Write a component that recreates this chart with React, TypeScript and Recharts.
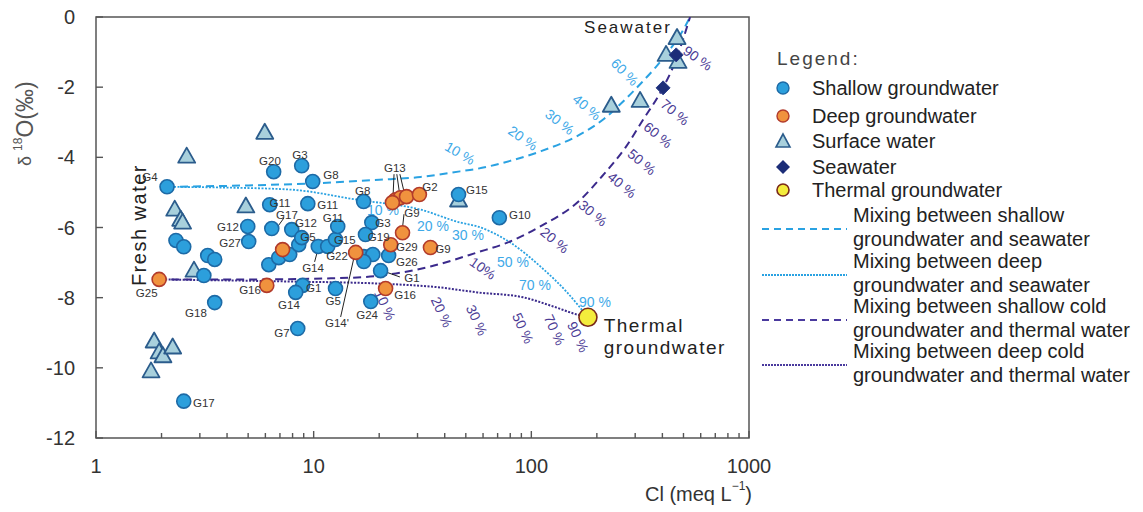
import React from "react";
import {
  ComposedChart,
  Line,
  Scatter,
  XAxis,
  YAxis,
  ReferenceArea,
  ReferenceLine,
} from "recharts";

const FONT = '"Liberation Sans", Arial, sans-serif';

// samples: [Cl (meq/L), d18O (permil)]
const shallowGW: [number, number][] = [
  [2.12, -4.84], [6.55, -4.41], [8.81, -4.24], [9.9, -4.69], [6.28, -5.35], [9.4, -5.32],
  [16.96, -5.26], [4.98, -5.97], [5.03, -6.4], [6.42, -6.03], [7.93, -6.06], [2.33, -6.37],
  [2.53, -6.55], [3.26, -6.8], [3.51, -6.91], [3.13, -7.37], [3.51, -8.14], [2.53, -10.95],
  [6.22, -7.06], [6.91, -6.86], [7.76, -6.77], [8.54, -6.49], [8.81, -6.29], [10.5, -6.54],
  [11.6, -6.54], [12.6, -6.34], [12.9, -5.97], [18.5, -5.86], [17.3, -6.2], [17.0, -6.83],
  [18.7, -6.77], [17.0, -6.97], [22.1, -6.8], [20.3, -7.23], [18.3, -8.11], [12.6, -7.74],
  [8.9, -7.65], [8.27, -7.85], [8.45, -8.88], [46.3, -5.06], [71.3, -5.72],
];
const deepGW: [number, number][] = [
  [1.95, -7.48], [6.09, -7.65], [7.2, -6.63], [15.6, -6.71], [25.6, -6.15], [22.6, -6.49],
  [21.4, -7.74], [34.4, -6.57], [23.8, -5.21], [25.0, -5.15], [26.7, -5.12], [23.0, -5.29],
  [30.6, -5.06],
];
const surfaceWater: [number, number][] = [
  [5.96, -3.3], [2.61, -3.98], [4.88, -5.4], [2.3, -5.49], [2.45, -5.78], [2.5, -5.86],
  [2.82, -7.23], [1.85, -9.25], [1.95, -9.56], [2.03, -9.67], [2.25, -9.42], [1.79, -10.1],
  [46.3, -5.23], [233, -2.53], [316, -2.39], [467, -0.6], [416, -1.08], [472, -1.28],
];
const seawater: [number, number][] = [[463, -1.08], [403, -2.02]];
const thermalGW: [number, number][] = [[182, -8.56]];

// mixing curves
const mixShallowSea: [number, number][] = [
  [2.12, -4.84], [5, -4.8], [10, -4.74], [20, -4.64], [31, -4.56], [47, -4.4], [56, -4.33],
  [80, -4.1], [109, -3.84], [166, -3.36], [216, -2.9], [270, -2.35], [320, -1.88],
  [374, -1.42], [430, -0.95], [490, -0.45], [536, 0],
];
const mixDeepSea: [number, number][] = [
  [2.12, -4.84], [3.74, -4.86], [7.84, -4.92], [15.9, -5.21], [31, -5.49], [47.2, -5.86],
  [56.5, -5.97], [80.1, -6.43], [110, -7.11], [146, -7.85], [182, -8.56],
];
const mixShallowThermal: [number, number][] = [
  [1.93, -7.48], [5.14, -7.48], [12, -7.45], [20.3, -7.37], [34.4, -7.11], [56.5, -6.71],
  [77.6, -6.43], [110, -5.97], [168, -5.21], [214, -4.5], [270, -3.73], [326, -2.93],
  [391, -2.16], [458, -1.28], [536, 0],
];
const mixDeepThermal: [number, number][] = [
  [1.93, -7.48], [7.84, -7.54], [20.3, -7.6], [38.2, -7.71], [56.5, -7.85], [91.7, -7.99],
  [126, -8.25], [162, -8.48], [182, -8.56],
];

// percentage labels: [text, Cl, d18O, rotation]
const pctShallowSea: [string, number, number, number][] = [
  ["10 %", 47, -3.88, 30], ["20 %", 91.5, -3.45, 35], ["30 %", 135, -2.99, 38],
  ["40 %", 180, -2.57, 40], ["60 %", 269, -1.57, 45],
];
const pctDeepSea: [string, number, number, number][] = [
  ["10 %", 20.8, -5.5, 0], ["20 %", 35.3, -5.96, 0], ["30 %", 51.2, -6.21, 0],
  ["50 %", 82.3, -6.98, 0], ["70 %", 104, -7.64, 0], ["90 %", 196, -8.12, 0],
];
const pctShallowThermal: [string, number, number, number][] = [
  ["10%", 59.9, -7.16, 35], ["20 %", 128, -6.36, 40], ["30 %", 192, -5.59, 40],
  ["40 %", 261, -4.79, 40], ["50 %", 322, -4.13, 40], ["60 %", 382, -3.36, 40],
  ["70 %", 457, -2.71, 40], ["90 %", 582, -1.17, 35],
];
const pctDeepThermal: [string, number, number, number][] = [
  ["10 %", 21.3, -8.21, 65], ["20 %", 38.8, -8.41, 65], ["30 %", 56.2, -8.64, 65],
  ["50 %", 91.5, -8.87, 65], ["70 %", 128, -8.92, 65], ["90 %", 164, -9.12, 65],
];

// sample names: [text, Cl, d18O]
const sampleNames: [string, number, number][] = [
  ["G4", 1.77, -4.56], ["G20", 6.3, -4.1], ["G3", 8.65, -3.93], ["G8", 12.0, -4.5],
  ["G11", 7.0, -5.3], ["G11", 11.6, -5.36], ["G17", 7.54, -5.64], ["G12", 4.04, -5.99],
  ["G27", 4.13, -6.44], ["G12", 9.22, -5.87], ["G5", 9.42, -6.27], ["G14", 9.93, -7.16],
  ["G16", 5.1, -7.78], ["G14", 7.7, -8.21], ["G1", 10.0, -7.73], ["G5", 12.3, -8.1],
  ["G7", 7.15, -9.01], ["G18", 2.88, -8.44], ["G17", 3.13, -11.0], ["G25", 1.71, -7.87],
  ["G15", 13.9, -6.36], ["G11", 12.3, -5.73], ["G22", 12.8, -6.8], ["G8", 16.8, -4.96],
  ["G3", 20.8, -5.87], ["G19", 19.9, -6.26], ["G13", 23.6, -4.3], ["G2", 34.2, -4.85],
  ["G9", 28.3, -5.59], ["G29", 26.8, -6.55], ["G9", 39.3, -6.61], ["G26", 26.8, -6.98],
  ["G1", 28.3, -7.44], ["G16", 26.3, -7.92], ["G24", 17.6, -8.49], ["G14'", 12.8, -8.72],
  ["G15", 56.2, -4.93], ["G10", 88.6, -5.64],
];
// leader lines: [Cl1, d1, Cl2, d2]
const leaderLines: [number, number, number, number][] = [
  [23.4, -4.48, 23.1, -5.25], [24.1, -4.48, 25.2, -5.33], [24.9, -4.48, 26.5, -5.19],
  [26.0, -5.62, 25.5, -6.1], [10.5, -6.59, 10.1, -6.98], [15.3, -6.87, 13.3, -8.55],
  [21.5, -7.27, 24.9, -7.41], [7.3, -5.73, 6.86, -5.96],
];

const xTicks = [1, 2, 3, 4, 5, 6, 7, 8, 9, 10, 20, 30, 40, 50, 60, 70, 80, 90, 100, 200, 300, 400, 500, 600, 700, 800, 900, 1000];
const xTickLabels = [1, 10, 100, 1000];
const yTicks = [-12, -10, -8, -6, -4, -2, 0];

const pts = (arr: [number, number][]) => arr.map(([x, y]) => ({ x, y }));
const labels = (arr: any[]) => arr.map(([text, x, y, rot]) => ({ text, x, y, rot: rot || 0 }));

const BLUE = "#2aa2e2";
const PURPLE = "#3b2a8c";
const LBL_BLUE = "#3ea9e8";
const LBL_PURPLE = "#4b3b95";

const circleShape = (fill: string, stroke: string, r: number) => (p: any) =>
  <circle cx={p.cx} cy={p.cy} r={r} fill={fill} stroke={stroke} strokeWidth={1.6} />;

const triangleShape = (p: any) => (
  <polygon
    points={`${p.cx},${p.cy - 9} ${p.cx - 8.5},${p.cy + 6} ${p.cx + 8.5},${p.cy + 6}`}
    fill="#a8d0dc" stroke="#2b5c8c" strokeWidth={1.8} strokeLinejoin="round"
  />
);

const diamondShape = (p: any) => (
  <polygon
    points={`${p.cx},${p.cy - 7} ${p.cx + 7},${p.cy} ${p.cx},${p.cy + 7} ${p.cx - 7},${p.cy}`}
    fill="#1c2d78" stroke="#2a3d88" strokeWidth={1}
  />
);

const textShape = (color: string, size: number, anchor = "middle", spacing = 0) => (p: any) => (
  <text
    x={p.cx} y={p.cy} fill={color} fontSize={size} fontFamily={FONT}
    textAnchor={anchor} dominantBaseline="central" letterSpacing={spacing}
    transform={p.payload.rot ? `rotate(${p.payload.rot} ${p.cx} ${p.cy})` : undefined}
  >
    {p.payload.text}
  </text>
);

const XTick = (p: any) => {
  const v = p.payload.value;
  const major = xTickLabels.includes(v);
  return (
    <g>
      <line x1={p.x} x2={p.x} y1={p.y} y2={p.y - (major ? 7 : 5)} stroke="#555" strokeWidth={1.4} />
      {major && (
        <text x={p.x} y={p.y + 28} textAnchor="middle" dominantBaseline="central" fontSize={20} fill="#333" fontFamily={FONT}>
          {v}
        </text>
      )}
    </g>
  );
};

const YTick = (p: any) => (
  <g>
    <line x1={p.x} x2={p.x + 7} y1={p.y} y2={p.y} stroke="#555" strokeWidth={1.4} />
    <text x={p.x - 21} y={p.y} textAnchor="end" dominantBaseline="central" fontSize={20} fill="#333" fontFamily={FONT}>
      {p.payload.value}
    </text>
  </g>
);

function LegendBox() {
  const items = [
    { label: "Shallow groundwater", y: 88, mark: <circle cx={783} cy={88} r={6} fill="#2c9fdc" stroke="#1d6aa6" strokeWidth={1.4} /> },
    { label: "Deep groundwater", y: 116, mark: <circle cx={783} cy={116} r={6} fill="#f0923e" stroke="#b23b2b" strokeWidth={1.4} /> },
    { label: "Surface water", y: 141, mark: <polygon points="783,134 776,147 790,147" fill="#a8d0dc" stroke="#2b5c8c" strokeWidth={1.6} /> },
    { label: "Seawater", y: 167, mark: <polygon points="783,160 790,167 783,174 776,167" fill="#1c2d78" /> },
    { label: "Thermal groundwater", y: 190, mark: <circle cx={783} cy={190} r={6} fill="#f4ec3c" stroke="#7a2a1a" strokeWidth={1.6} /> },
  ];
  const lines = [
    { y: 229, color: BLUE, dash: "7 5", w: 2, t: ["Mixing between shallow", "groundwater and seawater"] },
    { y: 275, color: BLUE, dash: "2 1", w: 2, t: ["Mixing between deep", "groundwater and seawater"] },
    { y: 320, color: "#4a3a9e", dash: "7 5", w: 2, t: ["Mixing between shallow cold", "groundwater and thermal water"] },
    { y: 365, color: "#4a3a9e", dash: "2 1", w: 2, t: ["Mixing between deep cold", "groundwater and thermal water"] },
  ];
  return (
    <svg width={1143} height={512} style={{ position: "absolute", left: 0, top: 0, pointerEvents: "none" }}>
      <text x={777} y={58} fontSize={19} letterSpacing={2} fill="#444" fontFamily={FONT} dominantBaseline="central">Legend:</text>
      {items.map((it) => (
        <g key={it.label}>
          {it.mark}
          <text x={812} y={it.y} fontSize={20} fill="#222" fontFamily={FONT} dominantBaseline="central">{it.label}</text>
        </g>
      ))}
      {lines.map((l) => (
        <g key={l.t[0]}>
          <line x1={762} x2={847} y1={l.y} y2={l.y} stroke={l.color} strokeWidth={l.w} strokeDasharray={l.dash} />
          <text x={853} y={l.y - 14} fontSize={20} fill="#222" fontFamily={FONT} dominantBaseline="central">{l.t[0]}</text>
          <text x={853} y={l.y + 10} fontSize={20} fill="#222" fontFamily={FONT} dominantBaseline="central">{l.t[1]}</text>
        </g>
      ))}
      {/* axis titles */}
      <text x={25} y={166} transform="rotate(-90 25 166)" textAnchor="start" dominantBaseline="central" fill="#555" fontFamily={FONT}>
        <tspan fontSize={18}>δ </tspan>
        <tspan fontSize={12} dy={-7}>18</tspan>
        <tspan fontSize={23} dy={7}>O(‰)</tspan>
      </text>
      <text x={752} y={494} textAnchor="end" dominantBaseline="central" fill="#333" fontFamily={FONT} fontSize={20}>
        Cl (meq L<tspan fontSize={12} dy={-8}>−1</tspan><tspan dy={8}>)</tspan>
      </text>
    </svg>
  );
}

export default function App() {
  return (
    <div style={{ position: "absolute", left: 0, top: 0, width: 1143, height: 512, background: "#fff" }}>
      <ComposedChart width={1143} height={512} margin={{ top: 17, right: 394, bottom: 44, left: 36 }}>
        <XAxis
          dataKey="x" type="number" scale="log" domain={[1, 1000]} allowDataOverflow
          ticks={xTicks} interval={0} height={30} axisLine={false} tickLine={false}
          tickSize={0} tickMargin={0} tick={(p: any) => <XTick {...p} />}
        />
        <YAxis
          dataKey="y" type="number" domain={[-12, 0]} allowDataOverflow ticks={yTicks}
          interval={0} width={60} axisLine={false} tickLine={false}
          tickSize={0} tickMargin={0} tick={(p: any) => <YTick {...p} />}
        />
        <ReferenceArea x1={1} x2={1000} y1={-12} y2={0} fill="none" stroke="#555" strokeWidth={1.5} ifOverflow="visible" />

        <Line data={pts(mixShallowSea)} dataKey="y" type="monotone" stroke={BLUE} strokeWidth={2} strokeDasharray="8 5" dot={false} isAnimationActive={false} />
        <Line data={pts(mixDeepSea)} dataKey="y" type="monotone" stroke={BLUE} strokeWidth={1.8} strokeDasharray="2 1.5" dot={false} isAnimationActive={false} />
        <Line data={pts(mixShallowThermal)} dataKey="y" type="monotone" stroke={PURPLE} strokeWidth={2} strokeDasharray="8 5" dot={false} isAnimationActive={false} />
        <Line data={pts(mixDeepThermal)} dataKey="y" type="monotone" stroke={PURPLE} strokeWidth={2} strokeDasharray="2 1.5" dot={false} isAnimationActive={false} />

        <Scatter data={labels(pctShallowSea)} shape={textShape(LBL_BLUE, 14)} isAnimationActive={false} />
        <Scatter data={labels(pctDeepSea)} shape={textShape(LBL_BLUE, 14)} isAnimationActive={false} />
        <Scatter data={labels(pctShallowThermal)} shape={textShape(LBL_PURPLE, 14)} isAnimationActive={false} />
        <Scatter data={labels(pctDeepThermal)} shape={textShape(LBL_PURPLE, 14)} isAnimationActive={false} />

        {leaderLines.map(([x1, y1, x2, y2], i) => (
          <ReferenceLine key={i} segment={[{ x: x1, y: y1 }, { x: x2, y: y2 }]} stroke="#222" strokeWidth={1} ifOverflow="visible" />
        ))}

        <Scatter data={pts(surfaceWater)} shape={triangleShape} isAnimationActive={false} />
        <Scatter data={pts(shallowGW)} shape={circleShape("#2c9fdc", "#1d6aa6", 7)} isAnimationActive={false} />
        <Scatter data={pts(deepGW)} shape={circleShape("#f0923e", "#b23b2b", 7)} isAnimationActive={false} />
        <Scatter data={pts(seawater)} shape={diamondShape} isAnimationActive={false} />
        <Scatter data={pts(thermalGW)} shape={circleShape("#f4ec3c", "#7a2a1a", 9)} isAnimationActive={false} />

        <Scatter data={labels(sampleNames)} shape={textShape("#333", 11.5)} isAnimationActive={false} />
        <Scatter data={[{ text: "Seawater", x: 278, y: -0.29 }]} shape={textShape("#222", 17, "middle", 2)} isAnimationActive={false} />
        <Scatter data={[{ text: "Thermal", x: 215, y: -8.78 }, { text: "groundwater", x: 215, y: -9.41 }]} shape={textShape("#222", 19, "start", 1.5)} isAnimationActive={false} />
        <Scatter data={[{ text: "Fresh water", x: 1.58, y: -5.93, rot: -90 }]} shape={textShape("#222", 20, "middle", 1.5)} isAnimationActive={false} />
      </ComposedChart>
      <LegendBox />
    </div>
  );
}
